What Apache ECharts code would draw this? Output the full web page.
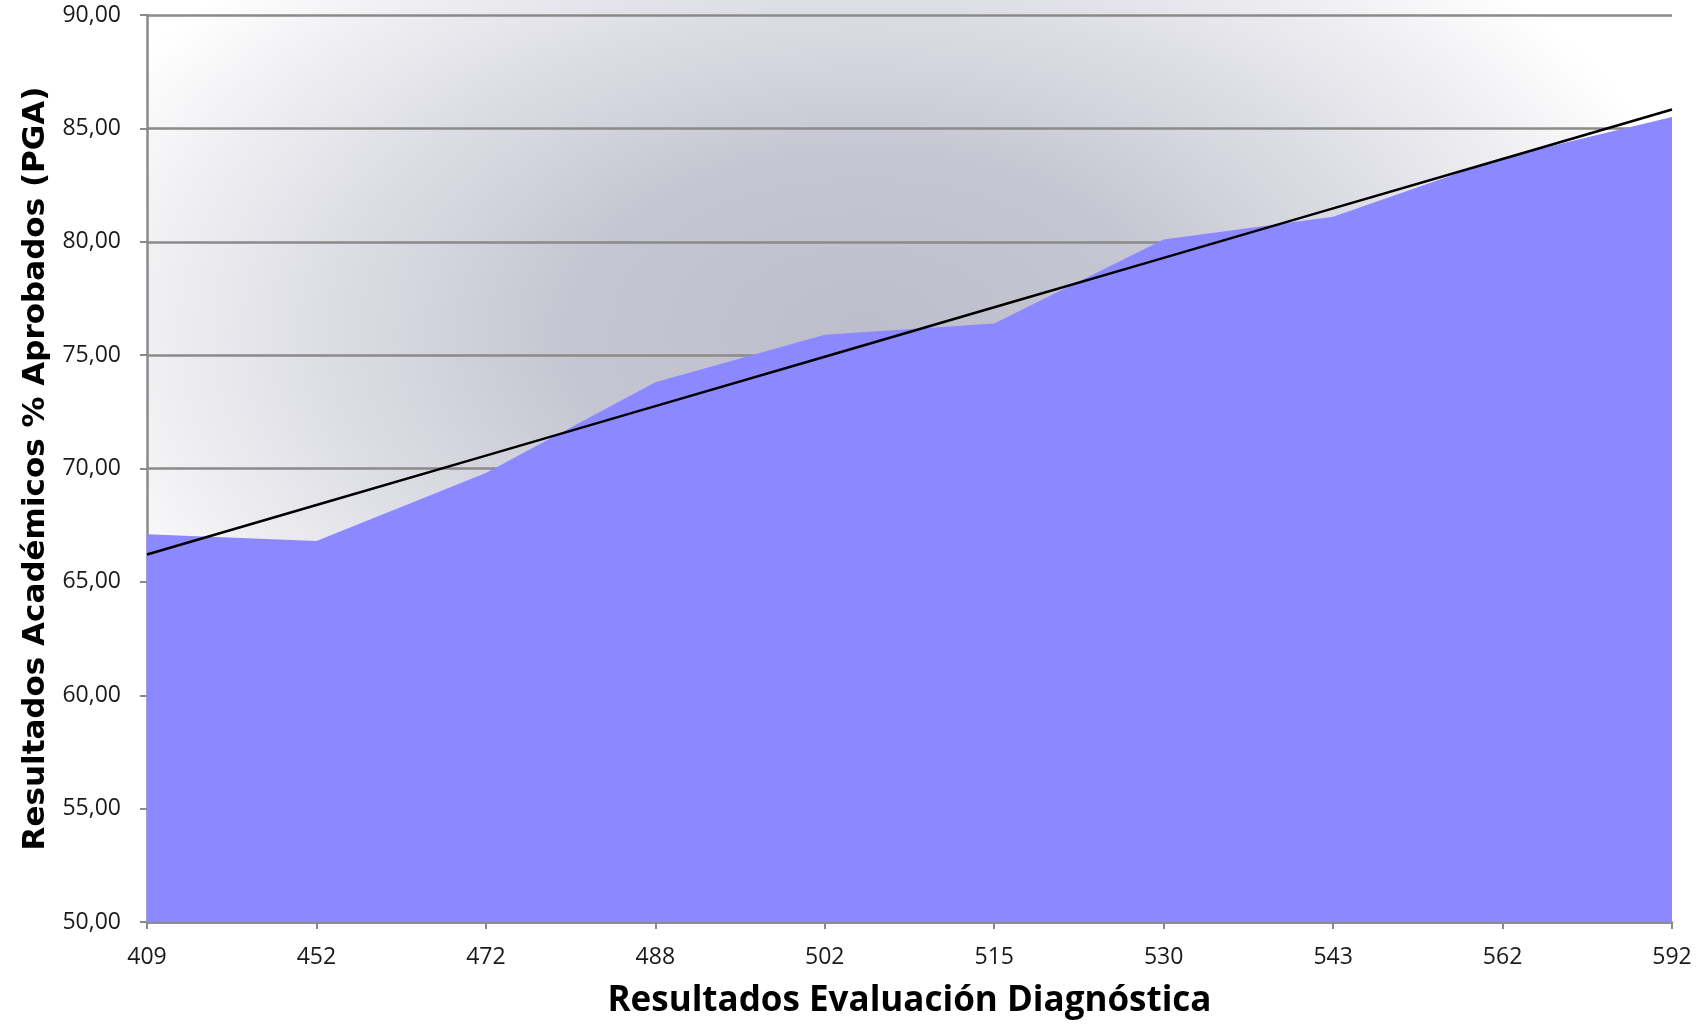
<!DOCTYPE html>
<html>
<head>
<meta charset="utf-8">
<script src="https://cdn.jsdelivr.net/npm/echarts@6/dist/echarts.min.js"></script>
<style>
html,body{margin:0;padding:0;background:#fff;}
#chart{width:1707px;height:1024px;}
</style>
</head>
<body>
<div id="chart"></div>
<script>
// Categories: Resultados Evaluación Diagnóstica
var categories = ['409', '452', '472', '488', '502', '515', '530', '543', '562', '592'];
// Resultados Académicos % Aprobados (PGA)
var pgaValues = [67.1, 66.8, 69.8, 73.8, 75.9, 76.4, 80.1, 81.1, 83.7, 85.5];
var yTicks = [50, 55, 60, 65, 70, 75, 80, 85, 90];

// Linear trend line (least squares over category index)
function linearTrend(vals) {
  var n = vals.length, sx = 0, sy = 0, sxy = 0, sxx = 0;
  for (var i = 0; i < n; i++) { sx += i; sy += vals[i]; sxy += i * vals[i]; sxx += i * i; }
  var b = (n * sxy - sx * sy) / (n * sxx - sx * sx);
  var a = (sy - b * sx) / n;
  return vals.map(function (_, i) { return +(a + b * i).toFixed(3); });
}
var trendValues = linearTrend(pgaValues);

var GL = 147, GR = 35, GT = 15, GB = 101;
var W = 1707 - GL - GR, H = 1024 - GB;

var chart = echarts.init(document.getElementById('chart'), null, {renderer: 'canvas'});
chart.setOption({
  animation: false,
  backgroundColor: '#ffffff',
  graphic: [{
    type: 'rect',
    x: GL, y: 0,
    scaleY: H / W,
    silent: true,
    z: -10,
    shape: {x: 0, y: 0, width: W, height: W},
    style: {
      fill: {
        type: 'radial', x: 0.47, y: 0.36, r: 0.56,
        colorStops: [
          {offset: 0, color: '#bdbecb'},
          {offset: 0.35, color: '#c5c6d1'},
          {offset: 0.62, color: '#dcdde4'},
          {offset: 0.85, color: '#f1f1f4'},
          {offset: 1, color: '#ffffff'}
        ]
      }
    }
  }],
  grid: {left: GL, right: GR, top: GT, bottom: GB, containLabel: false},
  xAxis: {
    type: 'category',
    data: categories,
    boundaryGap: false,
    name: 'Resultados Evaluación Diagnóstica',
    nameLocation: 'middle',
    nameGap: 62,
    nameTextStyle: {fontFamily: 'Open Sans', fontWeight: 'bold', fontSize: 35, color: '#000'},
    axisLine: {show: true, lineStyle: {color: '#8a8a8a', width: 2.5}},
    axisTick: {show: true, alignWithLabel: true, interval: 0, length: 7, lineStyle: {color: '#8a8a8a', width: 2}},
    axisLabel: {interval: 0, margin: 24, fontFamily: 'Open Sans', fontSize: 23, color: '#1a1a1a'},
    splitLine: {show: false}
  },
  yAxis: {
    type: 'value',
    min: 50, max: 90, interval: 5,
    name: 'Resultados Académicos % Aprobados (PGA)',
    nameLocation: 'middle',
    nameGap: 91,
    nameTextStyle: {fontFamily: 'DejaVu Sans', fontWeight: 'bold', fontSize: 31, color: '#000'},
    axisLine: {show: true, lineStyle: {color: '#8a8a8a', width: 2.5}},
    axisTick: {show: true, length: 7, lineStyle: {color: '#8a8a8a', width: 2}},
    axisLabel: {
      margin: 26, fontFamily: 'Open Sans', fontSize: 23, color: '#1a1a1a',
      formatter: function (v) { return yTicks.indexOf(v) >= 0 ? v.toFixed(2).replace('.', ',') : ''; }
    },
    splitLine: {show: true, lineStyle: {color: '#8a8a8a', width: 2.5}}
  },
  series: [
    {
      name: 'PGA',
      type: 'line',
      data: pgaValues,
      symbol: 'none',
      lineStyle: {width: 0},
      itemStyle: {color: '#8c88fe'},
      areaStyle: {color: '#8c88fe', opacity: 1, origin: 'start'},
      z: 2
    },
    {
      name: 'Tendencia',
      type: 'line',
      data: trendValues,
      symbol: 'none',
      lineStyle: {color: '#000000', width: 2.5},
      z: 3
    }
  ]
});
</script>
</body>
</html>
